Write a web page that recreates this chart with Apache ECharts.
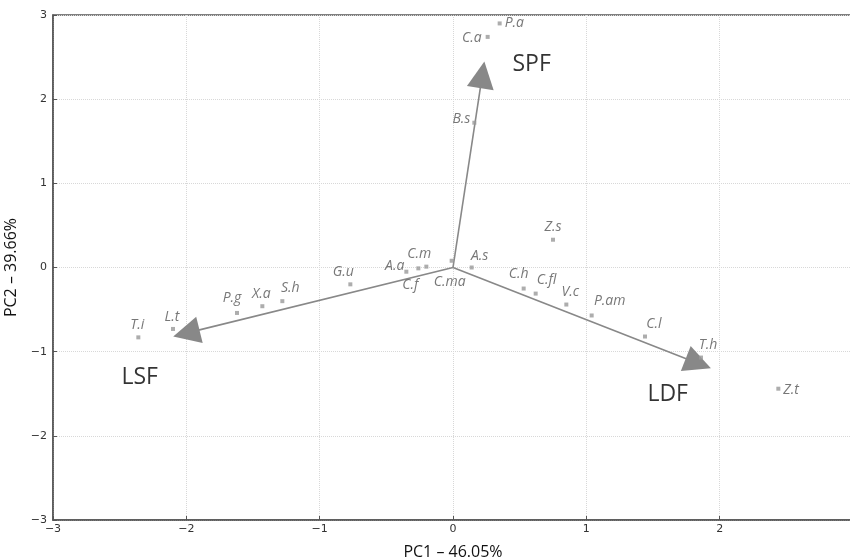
<!DOCTYPE html>
<html>
<head>
<meta charset="utf-8">
<script src="https://cdn.jsdelivr.net/npm/echarts@6/dist/echarts.min.js"></script>
<style>
  html, body { margin: 0; padding: 0; background: #fff; }
  #chart { width: 850px; height: 560px; }
</style>
</head>
<body>
<div id="chart"></div>
<script>
// species scores
const names = ['P.a', 'C.a', 'B.s', 'Z.s', 'A.s', 'C.h', 'C.fl', 'V.c', 'P.am', 'C.l', 'T.h', 'Z.t',
  'C.ma', 'C.m', 'C.f', 'A.a', 'G.u', 'S.h', 'X.a', 'P.g', 'L.t', 'T.i']
const pc1 = [0.35, 0.26, 0.16, 0.75, 0.14, 0.53, 0.62, 0.85, 1.04, 1.44, 1.86, 2.44,
  -0.01, -0.20, -0.26, -0.35, -0.77, -1.28, -1.43, -1.62, -2.10, -2.36]
const pc2 = [2.90, 2.74, 1.72, 0.33, 0.00, -0.25, -0.31, -0.44, -0.57, -0.82, -1.07, -1.44,
  0.08, 0.01, -0.01, -0.05, -0.20, -0.40, -0.46, -0.54, -0.73, -0.83]

// loading vectors (end point = centre of arrow head)
const vecNames = ['SPF', 'LSF', 'LDF']
const vecX = [0.22, -2.00, 1.84]
const vecY = [2.29, -0.78, -1.14]
// where the vector names sit
const vecLabelX = [0.59, -2.35, 1.61]
const vecLabelY = [2.41, -1.31, -1.51]

const axisTicks = [-3, -2, -1, 0, 1, 2, 3]

// label placement per species
const labelPos = {
  'P.a': { position: 'right', offset: [1, 0] },
  'C.a': { position: 'left', offset: [-2, 1] },
  'B.s': { position: 'left', offset: [0, -4] },
  'Z.s': { position: 'top', offset: [0, -2] },
  'A.s': { position: 'top', offset: [8, 0] },
  'C.h': { position: 'top', offset: [-5, -4] },
  'C.fl': { position: 'top', offset: [11, -3] },
  'V.c': { position: 'top', offset: [4, -2] },
  'P.am': { position: 'top', offset: [18, -3] },
  'C.l': { position: 'top', offset: [9, -2] },
  'T.h': { position: 'top', offset: [7, -2] },
  'Z.t': { position: 'right', offset: [1, 1] },
  'C.ma': { position: 'bottom', offset: [-2, 10] },
  'C.m': { position: 'top', offset: [-7, -2] },
  'C.f': { position: 'bottom', offset: [-8, 6] },
  'A.a': { position: 'left', offset: [2, -6] },
  'G.u': { position: 'top', offset: [-7, -1] },
  'S.h': { position: 'top', offset: [8, -2] },
  'X.a': { position: 'top', offset: [-1, -1] },
  'P.g': { position: 'top', offset: [-5, -4] },
  'L.t': { position: 'top', offset: [-1, -1] },
  'T.i': { position: 'top', offset: [-1, -1] }
}

const chart = echarts.init(document.getElementById('chart'))

const pointData = names.map((n, i) => ({
  value: [pc1[i], pc2[i], n],
  label: labelPos[n]
}))

const vecData = vecNames.map((n, i) => ({
  name: n,
  coords: [[0, 0], [vecX[i], vecY[i]]]
}))

const vecLabelData = vecNames.map((n, i) => [vecLabelX[i], vecLabelY[i], n])

const minus = v => String(v).replace('-', '−')

chart.setOption({
  animation: false,
  backgroundColor: '#fff',
  grid: {
    left: 53, top: 15, width: 800, height: 505,
    outerBoundsMode: 'none', containLabel: false,
    show: true, borderColor: '#555', borderWidth: 1.5
  },
  xAxis: {
    type: 'value', min: axisTicks[0], max: axisTicks[axisTicks.length - 1], interval: 1,
    name: 'PC1 – 46.05%', nameLocation: 'middle', nameGap: 24,
    nameTextStyle: { fontFamily: 'Open Sans', fontSize: 16, color: '#111' },
    axisLine: { onZero: false, lineStyle: { color: '#555', width: 1.5 } },
    axisTick: { show: true, inside: true, length: 4, lineStyle: { color: '#555' } },
    axisLabel: { fontFamily: 'DejaVu Sans', fontSize: 11, color: '#333', margin: 4, formatter: minus },
    splitLine: { show: true, lineStyle: { color: '#d8d8d8', type: 'dotted' } }
  },
  yAxis: {
    type: 'value', min: axisTicks[0], max: axisTicks[axisTicks.length - 1], interval: 1,
    name: 'PC2 – 39.66%', nameLocation: 'middle', nameGap: 26,
    nameTextStyle: { fontFamily: 'Open Sans', fontSize: 16, color: '#111' },
    axisLine: { onZero: false, lineStyle: { color: '#555', width: 1.5 } },
    axisTick: { show: true, inside: true, length: 4, lineStyle: { color: '#555' } },
    axisLabel: { fontFamily: 'DejaVu Sans', fontSize: 11, color: '#333', margin: 6, formatter: minus },
    splitLine: { show: true, lineStyle: { color: '#d8d8d8', type: 'dotted' } }
  },
  series: [
    {
      type: 'lines',
      coordinateSystem: 'cartesian2d',
      symbol: ['none', 'triangle'],
      symbolSize: [25, 27],
      lineStyle: { color: '#888', width: 1.6, opacity: 1 },
      itemStyle: { color: '#707070' },
      data: vecData,
      z: 3
    },
    {
      type: 'scatter',
      symbol: 'rect',
      symbolSize: 4,
      itemStyle: { color: '#999' },
      label: {
        show: true,
        formatter: p => p.value[2],
        fontFamily: 'Open Sans',
        fontStyle: 'italic',
        fontSize: 14,
        color: '#555',
        distance: 2
      },
      data: pointData,
      z: 4
    },
    {
      type: 'scatter',
      symbolSize: 0,
      label: {
        show: true,
        position: 'inside',
        formatter: p => p.value[2],
        fontFamily: 'Open Sans',
        fontSize: 23,
        color: '#000'
      },
      data: vecLabelData,
      z: 5
    }
  ]
})
</script>
</body>
</html>
